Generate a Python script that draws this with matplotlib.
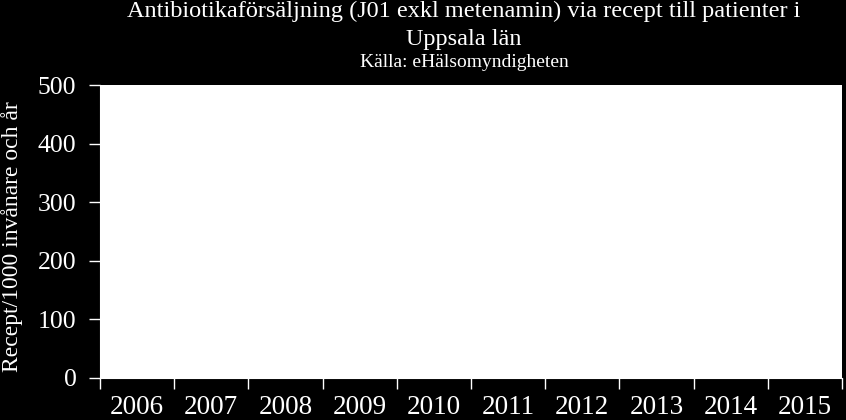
import matplotlib
matplotlib.use("Agg")
import matplotlib.pyplot as plt
import numpy as np

years = ["2006", "2007", "2008", "2009", "2010", "2011", "2012", "2013", "2014", "2015"]
values = [0, 0, 0, 0, 0, 0, 0, 0, 0, 0]
yticks = [0, 100, 200, 300, 400, 500]

plt.rcParams['font.family'] = ['Liberation Serif', 'DejaVu Serif']

W, H = 846, 420
fig = plt.figure(figsize=(W/100, H/100), dpi=100, facecolor='black')
ax = fig.add_axes([100/W, 1-378/H, 742/W, (378-85)/H])
ax.set_facecolor('white')

x = np.arange(len(years))
ax.bar(x, values, width=0.6, color='#4F81BD')
ax.set_xlim(-0.5, len(years)-0.5)
ax.set_ylim(0, 500)
ax.set_yticks(yticks)
ax.set_yticklabels([str(v) for v in yticks], fontsize=18.5, color='white')
ax.set_xticks(x)
ax.set_xticklabels(years, fontsize=19.5, color='white')
ax.set_xticks(np.arange(-0.5, len(years), 1), minor=True)
ax.tick_params(axis='x', which='major', length=0, pad=12)
ax.tick_params(axis='x', which='minor', length=8, color='white', direction='out', width=1)
ax.tick_params(axis='y', which='major', length=8, color='white', direction='out', width=1, pad=9)
for s in ['top', 'right']:
    ax.spines[s].set_visible(False)
for s in ['left', 'bottom']:
    ax.spines[s].set_color('white')

fig.text(12/W, 1-237/H, "Recept/1000 invånare och år", rotation=90,
         ha='center', va='center', fontsize=17, color='white')

cx = 464/W
fig.text(cx, 1-17/H, "Antibiotikaförsäljning (J01 exkl metenamin) via recept till patienter i",
         ha='center', va='baseline', fontsize=17.5, color='white')
fig.text(cx, 1-45/H, "Uppsala län", ha='center', va='baseline', fontsize=17.5, color='white')
fig.text(cx, 1-67/H, "Källa: eHälsomyndigheten", ha='center', va='baseline', fontsize=14, color='white')

fig.savefig("out.png", dpi=100, facecolor='black')
